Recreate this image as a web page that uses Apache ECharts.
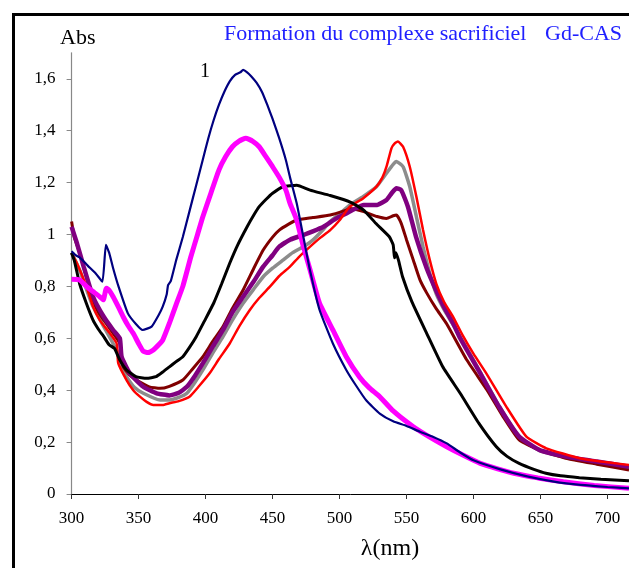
<!DOCTYPE html>
<html><head><meta charset="utf-8">
<script src="https://cdn.jsdelivr.net/npm/echarts@6/dist/echarts.min.js"></script>
<style>html,body{margin:0;padding:0;background:#fff}#c{width:629px;height:568px}</style>
</head><body><div id="c"></div>
<script>
// ---- data ----
const xTicks = [300, 350, 400, 450, 500, 550, 600, 650, 700];
const yTicks = [0, 0.2, 0.4, 0.6, 0.8, 1, 1.2, 1.4, 1.6];

const navyX = [300,303,306,312,318,323,325.6,328,331,335,342,348,353,359.7,365,368,371,372,374,378,383,388,393,398,402,406,410,414,418,422,426,428,431,434,438,442,446,450,455,460,463,468,473,478,485,495,505,512,520,530,540,550,560,570,580,590,600,620,640,660,680,700,716];
const navyY = [0.935,0.92,0.912,0.88,0.85,0.818,0.96,0.93,0.87,0.80,0.696,0.655,0.632,0.645,0.69,0.722,0.77,0.805,0.82,0.90,0.99,1.09,1.19,1.29,1.37,1.44,1.50,1.55,1.59,1.615,1.625,1.634,1.625,1.61,1.585,1.55,1.50,1.445,1.37,1.285,1.22,1.12,0.99,0.86,0.71,0.58,0.478,0.42,0.36,0.31,0.28,0.262,0.24,0.22,0.195,0.16,0.13,0.095,0.068,0.048,0.035,0.027,0.022];

const magentaX = [300,306,311,316,321,323.6,326,328,331,335,338.5,342,346,350,353.5,357,361,365,368,373,378,383,389,394,398,404,410,415,420,425,430,435,440,445,450,455,460,463,468,473,478,485,495,505,515,522,530,540,555,567,580,592,605,618,630,648,667,690,716];
const magentaY = [0.827,0.825,0.80,0.78,0.76,0.748,0.793,0.785,0.76,0.72,0.683,0.65,0.619,0.58,0.55,0.545,0.555,0.575,0.593,0.658,0.73,0.80,0.914,1.0,1.069,1.16,1.249,1.30,1.338,1.36,1.371,1.36,1.338,1.30,1.261,1.22,1.17,1.12,1.056,0.953,0.863,0.735,0.632,0.529,0.45,0.41,0.375,0.32,0.259,0.22,0.182,0.15,0.118,0.097,0.08,0.062,0.047,0.033,0.022];

const blackX = [300,302,306,311,316,320,324,328,332,336,341,348,356,363,368,373,378,383,388,393,399,406,412,418,424,431,436,440,445,450,458,468,478,493,508,518,527,537,540,541,542,544,547,554,565,577,590,604,617,625,634,645,654,665,679,695,716];
const blackY = [0.93,0.90,0.81,0.735,0.67,0.635,0.606,0.575,0.561,0.516,0.478,0.452,0.446,0.452,0.47,0.49,0.51,0.529,0.565,0.606,0.665,0.735,0.81,0.889,0.96,1.03,1.075,1.107,1.135,1.159,1.184,1.19,1.171,1.15,1.125,1.094,1.043,0.992,0.96,0.91,0.93,0.90,0.837,0.74,0.619,0.49,0.388,0.272,0.182,0.145,0.118,0.095,0.08,0.07,0.063,0.057,0.051];

const maroonX = [300,302,306,311,316,320,324,331,336,337,338.5,343,348.5,358,366,373,383,390,398,405,413,420,428,436,443,450,455,462,468,480,493,505,508,518,528,535,540,542.4,546,550,555,560,565,572,580,595,610,622,634,649,669,692,716];
const maroonY = [1.05,0.99,0.93,0.837,0.748,0.70,0.67,0.619,0.58,0.53,0.49,0.46,0.439,0.413,0.407,0.415,0.439,0.48,0.529,0.585,0.645,0.715,0.786,0.87,0.94,0.99,1.017,1.04,1.056,1.065,1.075,1.094,1.10,1.088,1.069,1.062,1.072,1.075,1.043,0.979,0.902,0.825,0.775,0.715,0.655,0.516,0.401,0.298,0.208,0.17,0.138,0.115,0.092];

const purpleX = [300,304,309,316,324,331,336,337.3,343.5,353.5,363.5,373,380,386,392,398,405,413,420,428,436,443,450,455,463,473,480,488,497,505,510,518,528,535,539,542.4,546,551,557,565,572,578,585,590,605,619,634,649,669,692,716];
const purpleY = [1.03,0.966,0.876,0.76,0.683,0.632,0.60,0.529,0.465,0.413,0.388,0.38,0.39,0.413,0.455,0.504,0.565,0.632,0.70,0.76,0.82,0.876,0.92,0.953,0.98,0.998,1.012,1.03,1.06,1.081,1.095,1.114,1.114,1.133,1.16,1.178,1.171,1.107,0.992,0.87,0.785,0.72,0.655,0.60,0.465,0.336,0.221,0.17,0.144,0.125,0.105];

const grayX = [300,306,311,316,324,333.6,336,337,341,347,353.5,366,373,380,386,392,398,405,413,420,428,436,443,450,458,465,473,480,488,493,500,508,517.5,527.5,535,540,542.4,547.4,552.4,557.3,562.3,567.3,572.2,578,585,590,605,619,634,649,669,692,716];
const grayY = [0.93,0.863,0.79,0.722,0.645,0.555,0.53,0.49,0.452,0.41,0.388,0.362,0.362,0.372,0.388,0.43,0.478,0.54,0.606,0.67,0.735,0.79,0.837,0.87,0.902,0.93,0.953,0.978,1.02,1.05,1.08,1.115,1.146,1.184,1.236,1.27,1.281,1.261,1.184,1.069,0.953,0.85,0.77,0.71,0.65,0.605,0.47,0.34,0.22,0.168,0.14,0.12,0.10];

const redX = [300,304,311,316,321,328.6,333.6,334.8,341,346,351,356,361,368,373,380,388,395,403,410,418,425,433,440,448,455,463,470,478,485,493,500,507.6,517.5,527.5,532,535,538.7,541,543.6,547.4,552.4,557.3,562.3,567.3,572.2,578,585,592,600,609.5,624.5,639.4,654.3,679,700,716];
const redY = [0.927,0.889,0.80,0.722,0.67,0.619,0.58,0.504,0.439,0.40,0.375,0.355,0.343,0.343,0.35,0.358,0.375,0.415,0.465,0.52,0.58,0.645,0.709,0.755,0.799,0.84,0.876,0.915,0.953,0.985,1.017,1.055,1.107,1.139,1.184,1.22,1.261,1.332,1.35,1.358,1.338,1.261,1.146,1.017,0.902,0.81,0.74,0.68,0.61,0.54,0.465,0.336,0.221,0.176,0.138,0.122,0.112];

const pairs = (xs, ys) => xs.map((x, i) => [x, ys[i]]);

const SERIF = 'Liberation Serif';
function mk(name, xs, ys, color, width) {
  return {
    name, type: 'line', data: pairs(xs, ys), showSymbol: false, smooth: 0.15,
    lineStyle: { color, width }, itemStyle: { color }, animation: false
  };
}

const chart = echarts.init(document.getElementById('c'), null, { renderer: 'canvas' });
chart.setOption({
  backgroundColor: '#fff',
  animation: false,
  grid: { left: 71.6, right: 0, top: 52.8, bottom: 74, containLabel: false },
  xAxis: {
    type: 'value', min: 300, max: 716,
    axisLine: { lineStyle: { color: '#000', width: 1 } },
    axisTick: { show: true, length: 5, customValues: xTicks, lineStyle: { color: '#333' } },
    axisLabel: { customValues: xTicks, color: '#000', fontFamily: SERIF, fontSize: 17, margin: 16 },
    splitLine: { show: false }
  },
  yAxis: {
    type: 'value', min: 0, max: 1.7,
    axisLine: { show: true, lineStyle: { color: '#888', width: 1.2 } },
    axisTick: { show: true, length: 5, customValues: yTicks, lineStyle: { color: '#888' } },
    axisLabel: {
      customValues: yTicks, color: '#000', fontFamily: SERIF, fontSize: 17, margin: 16,
      formatter: v => (Math.abs(v) < 1e-9 ? '0' : Math.abs(v - 1) < 1e-9 ? '1' : v.toFixed(1).replace('.', ','))
    },
    splitLine: { show: false }
  },
  series: [
    mk('gray', grayX, grayY, '#8c8c8c', 3.5),
    mk('maroon', maroonX, maroonY, '#800000', 3),
    mk('purple', purpleX, purpleY, '#800080', 4.5),
    mk('red', redX, redY, '#ff0000', 2.5),
    mk('black', blackX, blackY, '#000000', 3),
    mk('magenta', magentaX, magentaY, '#ff00ff', 5),
    mk('navy', navyX, navyY, '#000080', 2.2)
  ],
  graphic: [
    { type: 'rect', shape: { x: 13.5, y: 14.5, width: 800, height: 800 }, style: { fill: null, stroke: '#000', lineWidth: 3 }, silent: true },
    { type: 'text', x: 60, y: 38, style: { text: 'Abs', font: '22px "Liberation Serif"', fill: '#000', verticalAlign: 'middle' } },
    { type: 'text', x: 224, y: 34, style: { text: 'Formation du complexe sacrificiel', font: '22px "Liberation Serif"', fill: '#2020ff', verticalAlign: 'middle' } },
    { type: 'text', x: 545, y: 34, style: { text: 'Gd-CAS', font: '22px "Liberation Serif"', fill: '#2020ff', verticalAlign: 'middle' } },
    { type: 'text', x: 200, y: 72, style: { text: '1', font: '20px "Liberation Serif"', fill: '#000', verticalAlign: 'middle' } },
    { type: 'text', x: 390, y: 549, style: { text: 'λ(nm)', font: '24px "Liberation Serif"', fill: '#000', align: 'center', verticalAlign: 'middle' } }
  ]
});
</script></body></html>
